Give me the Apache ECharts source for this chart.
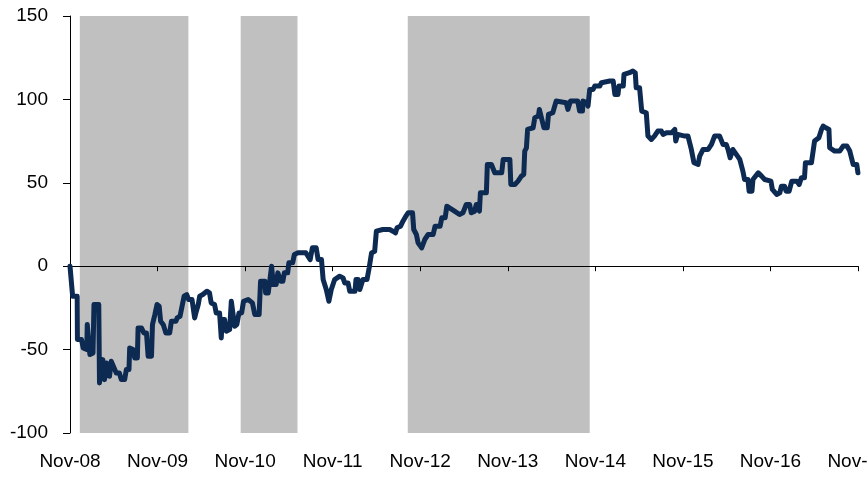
<!DOCTYPE html>
<html>
<head>
<meta charset="utf-8">
<script src="https://cdn.jsdelivr.net/npm/echarts@6/dist/echarts.min.js"></script>
<style>
html,body{margin:0;padding:0;background:#fff;}
#chart{width:868px;height:478px;}
</style>
</head>
<body>
<div id="chart"></div>
<script>
// ---- data ----
const dates = [
"2008-11-01","2008-11-12","2008-12-01","2008-12-02","2008-12-19","2008-12-26","2009-01-10","2009-01-12","2009-01-20","2009-01-23",
"2009-02-05","2009-02-09","2009-03-01","2009-03-04","2009-03-18","2009-03-25","2009-04-02","2009-04-15","2009-04-22","2009-05-13",
"2009-05-26","2009-06-03","2009-06-17","2009-06-24","2009-07-05","2009-07-08","2009-07-22","2009-07-29","2009-08-09","2009-08-12",
"2009-08-26","2009-09-05","2009-09-16","2009-09-23","2009-10-07","2009-10-11","2009-10-21","2009-10-30","2009-11-08","2009-11-14",
"2009-11-25","2009-12-06","2009-12-22","2009-12-29","2010-01-17","2010-01-22","2010-02-03","2010-02-10","2010-02-20","2010-03-03",
"2010-03-11","2010-03-25","2010-04-05","2010-04-12","2010-04-20","2010-04-26","2010-05-09","2010-05-16","2010-05-26","2010-06-06",
"2010-06-13","2010-06-27","2010-07-04","2010-07-18","2010-07-25","2010-07-29","2010-08-08","2010-08-15","2010-08-29","2010-09-05",
"2010-09-12","2010-09-19","2010-09-28","2010-10-07","2010-10-18","2010-10-26","2010-11-14","2010-12-02","2010-12-12","2010-12-30",
"2011-01-05","2011-01-23","2011-01-26","2011-02-06","2011-02-13","2011-02-20","2011-02-27","2011-03-11","2011-03-18","2011-03-25",
"2011-03-30","2011-04-08","2011-04-14","2011-04-28","2011-05-03","2011-05-19","2011-05-26","2011-06-10","2011-07-13","2011-07-31",
"2011-08-09","2011-08-25","2011-09-02","2011-09-16","2011-09-23","2011-10-06","2011-10-17","2011-10-23","2011-10-27","2011-11-10",
"2011-12-01","2011-12-15","2011-12-22","2012-01-05","2012-01-12","2012-02-03","2012-02-07","2012-02-16","2012-02-23","2012-03-01",
"2012-03-07","2012-03-24","2012-04-02","2012-04-12","2012-04-25","2012-05-02","2012-05-29","2012-06-27","2012-07-10","2012-07-21",
"2012-07-27","2012-08-11","2012-08-21","2012-09-02","2012-09-12","2012-09-30","2012-10-05","2012-10-16","2012-10-23","2012-11-07",
"2012-11-13","2012-11-20","2012-12-04","2012-12-25","2013-01-02","2013-01-23","2013-01-30","2013-02-13","2013-02-20","2013-03-03",
"2013-03-24","2013-04-14","2013-04-28","2013-05-12","2013-05-26","2013-06-02","2013-06-16","2013-06-23","2013-07-02","2013-07-06",
"2013-07-10","2013-08-04","2013-08-08","2013-08-25","2013-09-08","2013-10-07","2013-10-13","2013-11-10","2013-11-14","2013-12-01",
"2013-12-14","2013-12-28","2014-01-07","2014-01-11","2014-01-18","2014-01-23","2014-02-15","2014-02-22","2014-03-09","2014-03-13",
"2014-03-21","2014-04-01","2014-04-15","2014-04-20","2014-04-24","2014-05-08","2014-05-22","2014-07-03","2014-07-10","2014-07-21",
"2014-08-20","2014-08-28","2014-09-09","2014-09-11","2014-09-27","2014-10-02","2014-10-09","2014-10-23","2014-10-30","2014-11-20",
"2014-11-27","2015-01-01","2015-01-15","2015-01-22","2015-02-04","2015-02-08","2015-02-26","2015-03-01","2015-03-24","2015-04-07",
"2015-04-17","2015-04-21","2015-05-05","2015-05-12","2015-05-14","2015-06-02","2015-06-09","2015-06-23","2015-07-06","2015-07-20",
"2015-08-04","2015-08-11","2015-08-25","2015-09-16","2015-09-29","2015-10-03","2015-10-11","2015-11-10","2015-11-23","2015-12-07",
"2015-12-18","2016-01-04","2016-01-11","2016-01-25","2016-02-15","2016-02-29","2016-03-13","2016-04-03","2016-04-17","2016-05-01",
"2016-05-08","2016-05-17","2016-05-28","2016-06-05","2016-06-26","2016-07-09","2016-07-16","2016-07-30","2016-08-04","2016-08-16",
"2016-08-20","2016-09-11","2016-09-25","2016-10-08","2016-11-03","2016-11-09","2016-11-27","2016-12-10","2016-12-17","2016-12-30",
"2017-01-05","2017-01-18","2017-01-29","2017-02-19","2017-03-01","2017-03-10","2017-03-23","2017-03-27","2017-04-21","2017-05-04",
"2017-05-22","2017-06-02","2017-06-09","2017-06-20","2017-07-03","2017-07-06","2017-07-27","2017-08-17","2017-08-31","2017-09-16",
"2017-09-28","2017-10-06","2017-10-12","2017-10-27","2017-11-01"
];
const values = [
0,-18,-18,-44,-44,-49,-50,-35,-35,-53,
-52,-23,-23,-70,-56,-68,-58,-66,-57,-64,
-64,-68,-68,-62,-62,-49,-50,-55,-55,-37,
-37,-40,-40,-54,-54,-35,-29,-23,-24,-33,
-35,-40,-40,-33,-33,-31,-30,-25,-18,-17,
-20,-20,-31,-27,-23,-18,-17,-16,-15,-16,
-22,-23,-28,-28,-43,-32,-32,-39,-38,-21,
-22,-36,-35,-28,-28,-21,-20,-22,-29,-29,
-9,-9,-16,-16,-8,0,-11,-11,-4,-4,
-9,-9,-4,-4,2,2,7,8,8,4,
11,11,4,4,-8,-14,-21,-21,-14,-8,
-6,-7,-10,-10,-15,-15,-8,-8,-14,-15,
-8,-8,-1,8,9,21,22,22,21,20,
23,24,27,30,32,32,22,19,14,11,
12,16,19,19,24,24,29,29,36,35,
33,31,32,37,37,32,33,37,37,33,
44,44,61,61,56,56,64,64,49,49,
51,54,55,69,71,82,83,89,90,94,
93,83,83,91,92,92,99,98,94,99,
99,93,93,99,98,96,106,106,108,108,
110,111,111,103,103,108,108,115,116,117,
116,107,107,106,93,92,78,76,78,81,
81,79,80,80,82,75,79,78,78,70,
62,61,66,70,70,73,78,78,73,73,
70,65,70,70,64,57,52,52,45,45,
52,56,54,52,51,46,43,44,48,48,
45,45,51,51,49,53,53,62,62,75,
77,82,84,83,82,71,69,69,72,72,
69,69,61,61,56
];
const shadeStarts = ["2008-12-12","2010-10-14","2012-09-10"];
const shadeEnds   = ["2010-03-10","2011-06-08","2014-10-09"];
const yTicks = [-100,-50,0,50,100,150];
const monthNames = ["Jan","Feb","Mar","Apr","May","Jun","Jul","Aug","Sep","Oct","Nov","Dec"];

// ---- helpers ----
const DAY = 86400000;
const base = Date.UTC(2008,10,1);
const toDays = s => (Date.parse(s + "T00:00:00Z") - base) / DAY;
const yearDays = 365.25;
const fmt = v => {
  const d = new Date(base + (v + 3) * DAY);
  return monthNames[d.getUTCMonth()] + "-" + String(d.getUTCFullYear() % 100).padStart(2, "0");
};

const lineData = dates.map((d, i) => [toDays(d), values[i]]);
const areas = shadeStarts.map((s, i) => [{xAxis: toDays(s)}, {xAxis: toDays(shadeEnds[i])}]);

const labelFont = {
  color: '#000',
  fontFamily: 'Liberation Sans, Arial, sans-serif',
  fontSize: 19
};

const chart = echarts.init(document.getElementById('chart'), null, {renderer: 'canvas'});
chart.setOption({
  animation: false,
  backgroundColor: '#ffffff',
  grid: {left: 70, right: 10, top: 16, bottom: 45, containLabel: false, outerBoundsMode: 'none'},
  xAxis: [
    {
      // bottom labels only
      type: 'value',
      position: 'bottom',
      min: 0,
      max: 9 * yearDays,
      interval: yearDays,
      axisLine: {show: false, onZero: false},
      axisTick: {show: false},
      splitLine: {show: false},
      axisLabel: Object.assign({
        margin: 19,
        formatter: fmt,
        showMinLabel: true,
        showMaxLabel: true,
        hideOverlap: false
      }, labelFont)
    },
    {
      // zero line with ticks
      type: 'value',
      position: 'bottom',
      min: 0,
      max: 9 * yearDays,
      interval: yearDays,
      z: 2,
      axisLine: {show: true, onZero: true, lineStyle: {color: '#000', width: 1}},
      axisTick: {show: true, length: 5, inside: false, lineStyle: {color: '#000'}},
      splitLine: {show: false},
      axisLabel: {show: false}
    }
  ],
  yAxis: {
    type: 'value',
    min: yTicks[0],
    max: yTicks[yTicks.length - 1],
    interval: 50,
    z: 2,
    axisLine: {show: true, lineStyle: {color: '#000', width: 1}},
    axisTick: {show: true, length: 7, lineStyle: {color: '#000'}},
    splitLine: {show: false},
    axisLabel: Object.assign({margin: 22}, labelFont)
  },
  series: [
    {
      type: 'line',
      z: 1,
      xAxisIndex: 0,
      data: [],
      silent: true,
      markArea: {
        silent: true,
        itemStyle: {color: '#c0c0c0', opacity: 1},
        data: areas
      }
    },
    {
      type: 'line',
      z: 3,
      xAxisIndex: 0,
      data: lineData,
      showSymbol: false,
      symbol: 'none',
      clip: false,
      lineStyle: {color: '#0c2a52', width: 5, join: 'round', cap: 'round'}
    }
  ]
});
</script>
</body>
</html>
